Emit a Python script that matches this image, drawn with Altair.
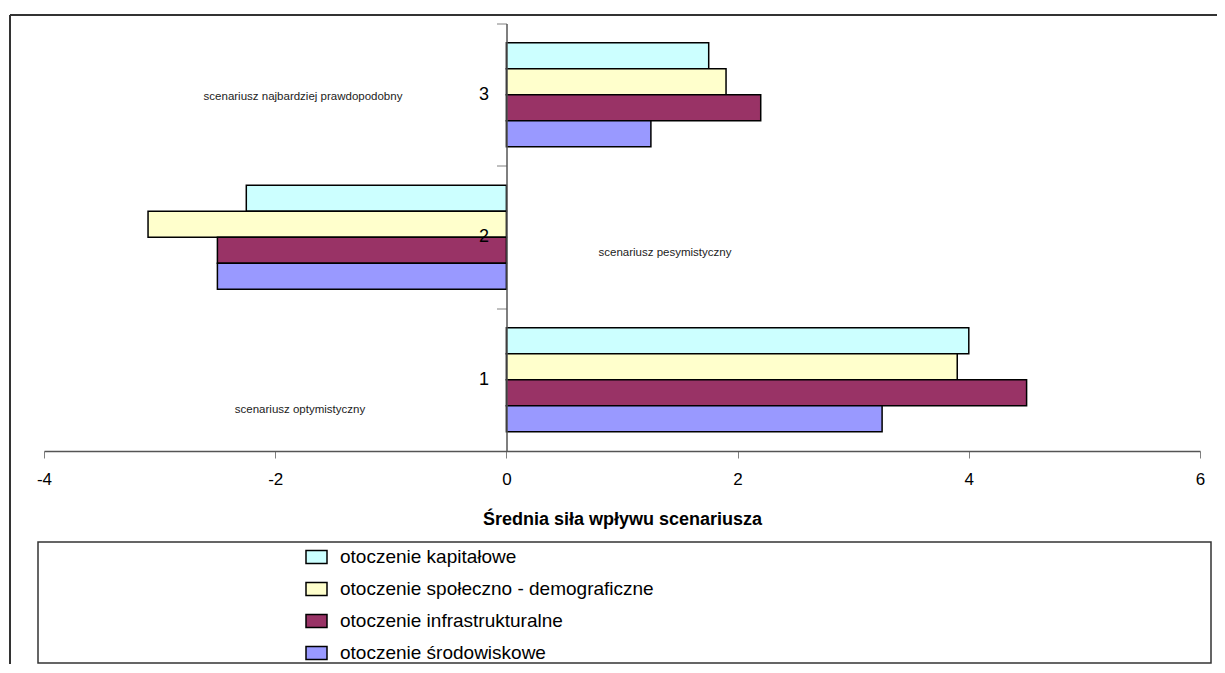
import altair as alt
import pandas as pd

# ---- data ----
scenarios = ["3", "2", "1"]  # top to bottom
series = [
    "otoczenie kapitałowe",
    "otoczenie społeczno - demograficzne",
    "otoczenie infrastrukturalne",
    "otoczenie środowiskowe",
]
colors = ["#CCFFFF", "#FFFFCC", "#993366", "#9999FF"]
# values per scenario in order 3, 2, 1
vals_kapitalowe = [1.75, -2.25, 4.0]
vals_spoleczno = [1.9, -3.1, 3.9]
vals_infra = [2.2, -2.5, 4.5]
vals_srodowisko = [1.25, -2.5, 3.25]
x_ticks = [-4, -2, 0, 2, 4, 6]
x_title = "Średnia siła wpływu scenariusza"
note_3 = "scenariusz najbardziej prawdopodobny"
note_2 = "scenariusz pesymistyczny"
note_1 = "scenariusz optymistyczny"

rows = []
for s, vals in zip(series, [vals_kapitalowe, vals_spoleczno, vals_infra, vals_srodowisko]):
    for sc, v in zip(scenarios, vals):
        rows.append({"scenario": sc, "series": s, "value": v})
df = pd.DataFrame(rows)

FONT = "Liberation Sans"
W, H = 1156, 427.5

bars = alt.Chart(df).mark_bar(stroke="black", strokeWidth=1.5).encode(
    x=alt.X(
        "value:Q",
        scale=alt.Scale(domain=[-4, 6], nice=False),
        axis=alt.Axis(
            values=x_ticks,
            title=x_title,
            grid=False,
            labelExpr="'' + datum.value",
            labelFlush=False,
            labelFontSize=17,
            labelColor="black",
            labelPadding=13,
            tickSize=7,
            tickColor="#808080",
            domainColor="#555555",
            domainWidth=1.5,
            titleFontSize=18,
            titleFontWeight="bold",
            titleColor="black",
            titlePadding=23,
        ),
    ),
    y=alt.Y(
        "scenario:N",
        sort=scenarios,
        scale=alt.Scale(paddingInner=0, paddingOuter=0),
        axis=alt.Axis(
            title=None,
            offset=-462.5,
            bandPosition=0,
            labelAngle=0,
            labelFontSize=18,
            labelColor="black",
            labelPadding=8,
            tickSize=10,
            tickColor="#808080",
            domainColor="#555555",
            domainWidth=1.5,
            grid=False,
            zindex=1,
        ),
    ),
    yOffset=alt.YOffset(
        "series:N", sort=series, scale=alt.Scale(paddingInner=0, paddingOuter=0.74)
    ),
    color=alt.Color(
        "series:N",
        sort=series,
        scale=alt.Scale(domain=series, range=colors),
        legend=alt.Legend(
            title=None,
            orient="none",
            legendX=261,
            legendY=522,
            symbolType="M-1,-0.62H1V0.62H-1Z",
            symbolSize=441,
            symbolStrokeColor="black",
            symbolStrokeWidth=1.5,
            symbolOpacity=1,
            labelFontSize=19,
            labelColor="black",
            labelOffset=12,
            labelLimit=0,
            rowPadding=10,
            padding=0,
        ),
    ),
)

one = alt.Data(values=[{}])


def note(txt, px, py):
    return alt.Chart(one).mark_text(fontSize=11.5, color="#222222", align="center", baseline="middle").encode(
        x=alt.value(px), y=alt.value(py), text=alt.value(txt)
    )


notes = [note(note_3, 259, 73.5), note(note_2, 621, 229.5), note(note_1, 256, 386.5)]

frame_top = alt.Chart(one).mark_rule(color="#333333", strokeWidth=2).encode(
    x=alt.value(-34), x2=alt.value(1173), y=alt.value(-8.5)
)
frame_left = alt.Chart(one).mark_rule(color="#333333", strokeWidth=2).encode(
    x=alt.value(-34), y=alt.value(-8.5), y2=alt.value(645)
)
legend_box = alt.Chart(one).mark_rect(fillOpacity=0, stroke="#333333", strokeWidth=1.5).encode(
    x=alt.value(-6), x2=alt.value(1167), y=alt.value(518.5), y2=alt.value(639.5)
)

chart = alt.layer(frame_top, frame_left, legend_box, bars, *notes).properties(
    width=W,
    height=H,
    autosize=alt.AutoSizeParams(type="none"),
    padding={"left": 36, "top": 15.5, "right": 17, "bottom": 213},
).configure(font=FONT).configure_view(stroke=None)

chart.save("out.html", embed_options={"renderer": "svg", "actions": False})
